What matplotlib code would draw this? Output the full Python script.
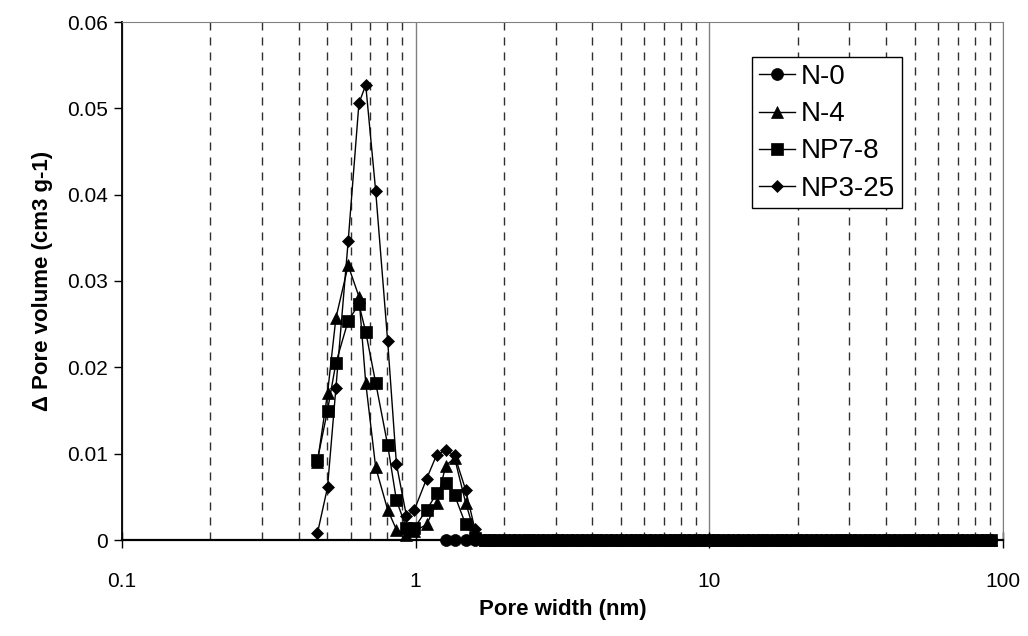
import matplotlib
matplotlib.use('agg')
import matplotlib.pyplot as plt
import numpy as np

plt.rcParams['font.family'] = ['Liberation Sans', 'DejaVu Sans']

# pore widths (nm) shared by all samples
w_low = [0.463, 0.501, 0.535, 0.589, 0.641, 0.676, 0.731, 0.803, 0.86, 0.93,
         0.99, 1.09, 1.18, 1.265, 1.357, 1.48, 1.59]
w_tail = [1.72, 1.85, 2.00, 2.16, 2.33, 2.51, 2.71, 2.93, 3.16, 3.41, 3.68, 3.97,
          4.29, 4.63, 5.00, 5.39, 5.82, 6.28, 6.78, 7.32, 7.90, 8.53, 9.21, 9.94,
          10.7, 11.6, 12.5, 13.5, 14.6, 15.7, 17.0, 18.3, 19.8, 21.4, 23.1, 24.9,
          26.9, 29.0, 31.3, 33.8, 36.5, 39.4, 42.5, 45.9, 49.5, 53.5, 57.7, 62.3,
          67.2, 72.6, 78.3, 84.5, 91.2]
tail_zero = [0.0] * len(w_tail)

# N-0 only shows up from ~1.26 nm, all zero
n0_w = [1.265, 1.357, 1.48, 1.59] + w_tail
n0_v = [0.0, 0.0, 0.0, 0.0] + tail_zero

n4_v = [0.0090, 0.0170, 0.0257, 0.0318, 0.0282, 0.0182, 0.0084, 0.0035, 0.0012, 0.0006,
        0.0010, 0.0018, 0.0043, 0.0086, 0.0095, 0.0043, 0.0008] + tail_zero
np78_v = [0.0093, 0.0150, 0.0205, 0.0254, 0.0273, 0.0241, 0.0182, 0.0110, 0.0046, 0.0014,
          0.0014, 0.0035, 0.0054, 0.0066, 0.0052, 0.0018, 0.0002] + tail_zero
np325_v = [0.0008, 0.0061, 0.0176, 0.0346, 0.0506, 0.0527, 0.0404, 0.0230, 0.0088, 0.0028,
           0.0035, 0.0071, 0.0099, 0.0104, 0.0098, 0.0058, 0.0013] + tail_zero
w_all = w_low + w_tail

labels = ['N-0', 'N-4', 'NP7-8', 'NP3-25']
xticks = [0.1, 1, 10, 100]
xticklabels = ['0.1', '1', '10', '100']
yticks = [0, 0.01, 0.02, 0.03, 0.04, 0.05, 0.06]
yticklabels = ['0', '0.01', '0.02', '0.03', '0.04', '0.05', '0.06']

fig = plt.figure(figsize=(10.28, 6.36), dpi=100)
ax = fig.add_axes([122/1028., 96/636., 881/1028., 518/636.])

kw = dict(color='black', lw=1.0, mfc='black', mec='black', mew=0.5, clip_on=False, zorder=3)
ax.plot(n0_w, n0_v, marker='o', ms=8.6, label=labels[0], **kw)
ax.plot(w_all, n4_v, marker='^', ms=9.2, label=labels[1], **kw)
ax.plot(w_all, np78_v, marker='s', ms=8.8, label=labels[2], **kw)
ax.plot(w_all, np325_v, marker='D', ms=6.3, label=labels[3], **kw)

ax.set_xscale('log')
ax.set_xlim(0.1, 100)
ax.set_ylim(0, 0.06)
ax.set_xticks(xticks)
ax.set_xticklabels(xticklabels)
ax.xaxis.set_minor_locator(matplotlib.ticker.LogLocator(base=10, subs=np.arange(2, 10)))
ax.xaxis.set_minor_formatter(matplotlib.ticker.NullFormatter())
ax.set_yticks(yticks)
ax.set_yticklabels(yticklabels)

ax.set_axisbelow(True)
ax.grid(True, axis='x', which='major', color='#808080', lw=1.0, ls='-')
ax.grid(True, axis='x', which='minor', color='#303030', lw=1.0, ls=(0, (5.8, 5.0)))

ax.tick_params(axis='x', which='major', direction='inout', length=12, width=1.0,
               labelsize=15, pad=17)
ax.tick_params(axis='x', which='minor', length=0)
ax.tick_params(axis='y', direction='out', length=6, width=1.0, labelsize=15, pad=4)

ax.spines['bottom'].set_linewidth(1.6)
ax.spines['left'].set_linewidth(1.3)
ax.spines['top'].set_color('#808080')
ax.spines['right'].set_color('#808080')

ax.set_xlabel('Pore width (nm)', fontsize=16, fontweight='bold', labelpad=6)
ax.set_ylabel('\u0394 Pore volume (cm3 g-1)', fontsize=16, fontweight='bold', labelpad=10)

leg = ax.legend(loc='upper left', bbox_to_anchor=(0.715, 0.932), fontsize=20,
                frameon=True, fancybox=False, framealpha=1, edgecolor='black',
                borderpad=0.25, labelspacing=0.4, handlelength=1.3, handletextpad=0.2,
                borderaxespad=0)
leg.get_frame().set_linewidth(1.0)

fig.savefig('out.png', dpi=100)
plt.close(fig)
